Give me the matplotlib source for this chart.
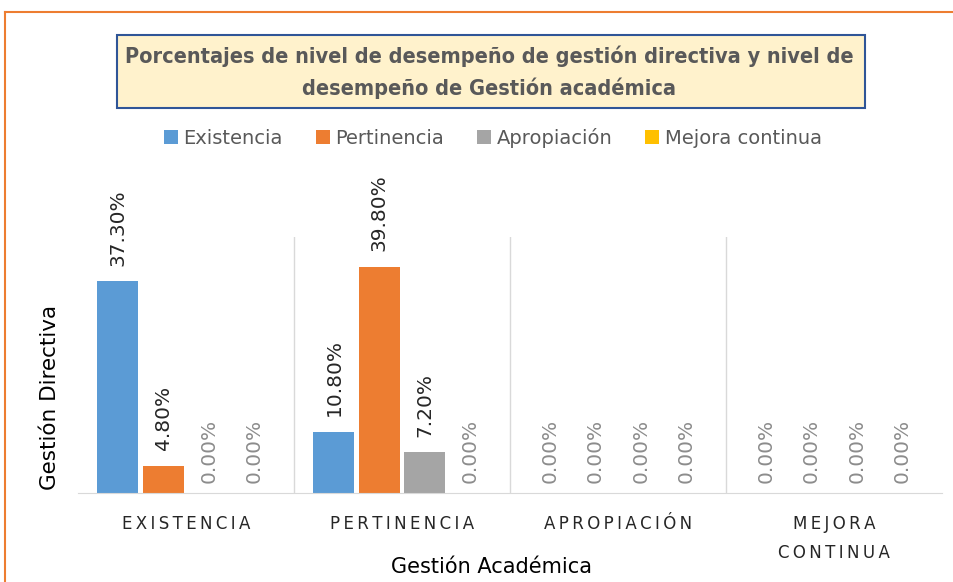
import numpy as np
import matplotlib.pyplot as plt
from matplotlib.patches import Rectangle
from matplotlib.lines import Line2D

plt.rcParams['font.family'] = ['DejaVu Sans']

categorias = ['EXISTENCIA', 'PERTINENCIA', 'APROPIACIÓN', 'MEJORA\nCONTINUA']
series = ['Existencia', 'Pertinencia', 'Apropiación', 'Mejora continua']
existencia = [37.3, 10.8, 0.0, 0.0]
pertinencia = [4.8, 39.8, 0.0, 0.0]
apropiacion = [0.0, 7.2, 0.0, 0.0]
mejora = [0.0, 0.0, 0.0, 0.0]
colores = ['#5b9bd5', '#ed7d31', '#a5a5a5', '#ffc000']

W, H = 954, 582
fig = plt.figure(figsize=(W / 100, H / 100), dpi=100)
ax = fig.add_axes([78 / W, 1 - 493 / H, 864 / W, 256 / H])

x = np.arange(len(categorias))
paso = 0.21
ancho = 0.19
datos = [existencia, pertinencia, apropiacion, mejora]
for i, (vals, nombre, c) in enumerate(zip(datos, series, colores)):
    pos = x + (i - 1.5) * paso
    ax.bar(pos, vals, width=ancho, color=c, label=nombre)
    for px, v in zip(pos, vals):
        ax.annotate(f'{v:.2f}%', (px, v), xytext=(0, 11 if v > 0 else 7),
                    textcoords='offset points', rotation=90, ha='center',
                    va='bottom', fontsize=14.5,
                    color='#262626' if v > 0 else '#8c8c8c')

ax.set_xlim(-0.5, len(categorias) - 0.5)
ax.set_ylim(0, 45)
for s in ['top', 'right', 'left']:
    ax.spines[s].set_visible(False)
ax.spines['bottom'].set_color('#d9d9d9')
for b in np.arange(0.5, len(categorias) - 0.5):
    ax.axvline(b, color='#d9d9d9', lw=1)
ax.set_yticks([])
ax.set_xticks(x)
sep = '\u2009'
ax.set_xticklabels([sep.join(list(c)).replace(sep + '\n' + sep, '\n') for c in categorias],
                   fontsize=12, color='#262626', linespacing=1.75)
ax.tick_params(axis='x', length=0, pad=16)
ax.set_xlabel('Gestión Académica', fontsize=15, color='#000000')
ax.xaxis.set_label_coords((492 - 78) / 864, (493 - 557) / 256)
ax.set_ylabel('Gestión Directiva', fontsize=15.5, color='#000000', va='center')
ax.yaxis.set_label_coords((50 - 78) / 864, (493 - 397) / 256)

# título en recuadro
fig.add_artist(Rectangle((117 / W, 1 - 108 / H), (865 - 117) / W, 73 / H,
                         transform=fig.transFigure, facecolor='#fff2cc',
                         edgecolor='#2f5597', lw=1.5))
fig.text(489 / W, 1 - 72 / H,
         'Porcentajes de nivel de desempeño de gestión directiva y nivel de\n'
         'desempeño de Gestión académica',
         ha='center', va='center', fontsize=15.6, fontweight='bold',
         fontstretch='condensed', color='#595959', linespacing=1.6)

fig.legend(loc='center', bbox_to_anchor=(493 / W, 1 - 138 / H), ncol=4,
           frameon=False, fontsize=14, handlelength=0.7, handleheight=0.7,
           handletextpad=0.3, columnspacing=1.7, labelcolor='#595959')

# borde naranja del recuadro del gráfico
fig.add_artist(Line2D([5 / W, 1], [1 - 12 / H, 1 - 12 / H],
                      transform=fig.transFigure, color='#ed7d31', lw=1.5))
fig.add_artist(Line2D([5 / W, 5 / W], [0, 1 - 12 / H],
                      transform=fig.transFigure, color='#ed7d31', lw=1.5))

fig.savefig('out.png', dpi=100)
